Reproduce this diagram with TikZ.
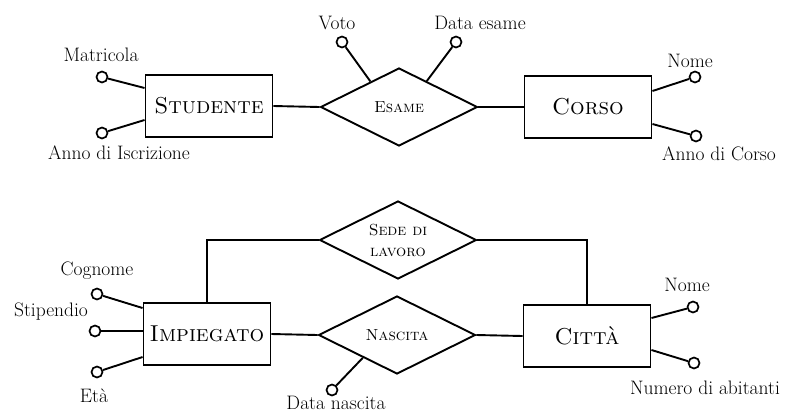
\documentclass[tikz,border=0pt]{standalone}
\usetikzlibrary{shapes.geometric,calc}
\begin{document}
\begin{tikzpicture}[x=1pt,y=-1pt,
  every path/.style={line width=1.9pt},
  entity/.style={draw,rectangle,minimum width=127pt,minimum height=62pt,inner sep=0pt,
    font=\fontsize{23}{26}\selectfont},
  relation/.style={draw,diamond,aspect=2,minimum width=157pt,minimum height=78pt,inner sep=0pt,
    align=center,font=\fontsize{16}{21}\selectfont},
  attr/.style={draw,circle,fill=white,minimum size=11pt,inner sep=0pt,line width=1.7pt},
  lbl/.style={inner sep=0pt,font=\fontsize{19.5}{22}\selectfont}]
\useasboundingbox (0,0) rectangle (791,413);

% ---- Studente / Esame / Corso ----
\node[entity]   (stud)  at (209,106) {\textsc{Studente}};
\node[relation] (esame) at (399,107) {\textsc{Esame}};
\node[entity]   (corso) at (588,107) {\textsc{Corso}};
\draw (stud.east) -- (esame.west);
\draw (esame.east) -- (corso.west);

\node[attr] (voto) at (342,42) {};
\node[lbl] (votol) at (337,23) {Voto};
\draw (voto) -- ($(esame.west)!0.64!(esame.north)$);

\node[attr] (dataes) at (456,42) {};
\node[lbl] (dataesl) at (480,23) {Data esame};
\draw (dataes) -- ($(esame.north)!0.35!(esame.east)$);

\node[attr] (matr) at (102,77) {};
\node[lbl] (matrl) at (101,55) {Matricola};
\draw (matr) -- ([yshift=18pt]stud.west);

\node[attr] (annoisc) at (102,133) {};
\node[lbl] (annoiscl) at (119,153) {Anno di Iscrizione};
\draw (annoisc) -- ([yshift=-14pt]stud.west);

\node[attr] (nomec) at (695,77) {};
\node[lbl] (nomecl) at (690,61) {Nome};
\draw (nomec) -- ([yshift=16pt]corso.east);

\node[attr] (annoc) at (696,136) {};
\node[lbl] (annocl) at (719,154) {Anno di Corso};
\draw (annoc) -- ([yshift=-17pt]corso.east);

% ---- Impiegato / Sede di lavoro / Nascita / Citta ----
\node[entity]   (imp)     at (207,334) {\textsc{Impiegato}};
\node[relation] (sede)    at (398,240) {\textsc{Sede di}\\\textsc{lavoro}};
\node[relation] (nascita) at (397,335) {\textsc{Nascita}};
\node[entity]   (citta)   at (587,336) {\textsc{Città}};
\draw (imp.north) |- (sede.west);
\draw (sede.east) -| (citta.north);
\draw (imp.east) -- (nascita.west);
\draw (nascita.east) -- (citta.west);

\node[attr] (cogn) at (97,294) {};
\node[lbl] (cognl) at (97,271) {Cognome};
\draw (cogn) -- ([yshift=26pt]imp.west);

\node[attr] (stip) at (95,331) {};
\node[lbl] (stipl) at (51,312) {Stipendio};
\draw (stip) -- ([yshift=3pt]imp.west);

\node[attr] (eta) at (97,372) {};
\node[lbl] (etal) at (94,396) {Età};
\draw (eta) -- ([yshift=-23pt]imp.west);

\node[attr] (datan) at (332,390) {};
\node[lbl] (datanl) at (336,403) {Data nascita};
\draw (datan) -- ($(nascita.west)!0.57!(nascita.south)$);

\node[attr] (nomeci) at (693,307) {};
\node[lbl] (nomecil) at (687,285) {Nome};
\draw (nomeci) -- ([yshift=18pt]citta.east);

\node[attr] (numab) at (694,363) {};
\node[lbl] (numabl) at (705,388) {Numero di abitanti};
\draw (numab) -- ([yshift=-14pt]citta.east);
\end{tikzpicture}
\end{document}
